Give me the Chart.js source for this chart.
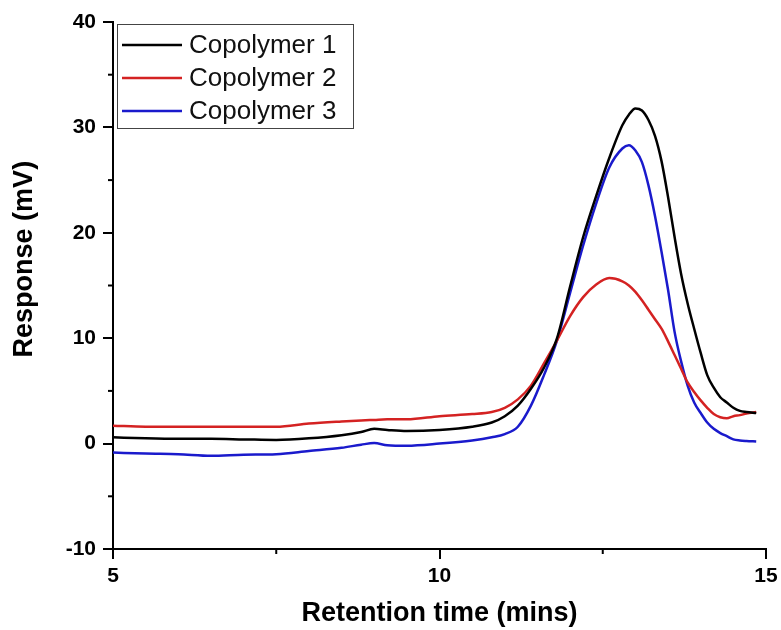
<!DOCTYPE html>
<html>
<head>
<meta charset="utf-8">
<script src="https://cdn.jsdelivr.net/npm/chart.js@4/dist/chart.umd.min.js"></script>
<style>
  body { margin: 0; background: #fff; }
  #wrap { width: 781px; height: 630px; }
</style>
</head>
<body>
<div id="wrap"><canvas id="gpcChart" width="781" height="630"></canvas></div>
<script>
// retention time (mins)
const times = [5, 5.5, 6, 6.5, 7, 7.5, 8, 8.5, 8.8, 9.0, 9.2, 9.5, 10, 10.5, 10.8, 11.0, 11.2, 11.4, 11.6, 11.8,
  12.0, 12.2, 12.4, 12.6, 12.8, 12.9, 13.0, 13.1, 13.2, 13.3, 13.4, 13.5, 13.6, 13.7, 13.8, 13.9,
  14.0, 14.1, 14.2, 14.3, 14.4, 14.5, 14.6, 14.7, 14.85];

// response (mV)
const copolymer1 = [0.6, 0.5, 0.45, 0.45, 0.4, 0.35, 0.5, 0.8, 1.1, 1.4, 1.3, 1.2, 1.3, 1.6, 2.0, 2.6, 3.6, 5.2, 7.2, 10.0,
  14.9, 19.6, 23.5, 27.1, 30.2, 31.2, 31.8, 31.6, 30.7, 29.2, 26.8, 23.4, 19.6, 16.1, 13.3, 10.9,
  8.6, 6.5, 5.3, 4.4, 3.9, 3.4, 3.1, 3.0, 2.9];
const copolymer2 = [1.7, 1.6, 1.6, 1.6, 1.6, 1.6, 1.9, 2.1, 2.2, 2.25, 2.3, 2.3, 2.6, 2.8, 3.0, 3.4, 4.2, 5.5, 7.6, 9.8,
  12.1, 13.9, 15.1, 15.7, 15.4, 15.0, 14.4, 13.6, 12.7, 11.8, 10.9, 9.7, 8.4, 7.1, 5.8, 4.9,
  4.1, 3.4, 2.8, 2.5, 2.4, 2.6, 2.7, 2.85, 3.0];
const copolymer3 = [-0.85, -0.95, -1.0, -1.15, -1.05, -1.0, -0.7, -0.4, -0.1, 0.05, -0.15, -0.2, 0.0, 0.3, 0.6, 0.9, 1.6, 3.6, 6.5, 9.8,
  14.3, 18.8, 22.8, 26.2, 28.0, 28.3, 27.8, 26.7, 24.5, 21.6, 18.2, 14.6, 10.6, 7.8, 5.5, 3.9,
  2.9, 2.0, 1.4, 1.0, 0.7, 0.4, 0.3, 0.25, 0.2];

const seriesNames = ['Copolymer 1', 'Copolymer 2', 'Copolymer 3'];
const seriesColors = ['#000000', '#d42222', '#1a1acc'];

const xMinor = [7.5, 12.5];
const yMinor = [-5, 5, 15, 25, 35];
const yTitle = 'Response (mV)';

const FONT = "'Liberation Sans', Arial, sans-serif";

function toPoints(ys) {
  return times.map((t, i) => ({ x: t, y: ys[i] }));
}

// short ticks between the labelled ones + y title (sits a bit above centre in the original)
const axisExtras = {
  id: 'axisExtras',
  afterDraw(chart) {
    const { ctx, chartArea } = chart;
    const x = chart.scales.x, y = chart.scales.y;
    ctx.save();
    ctx.strokeStyle = '#000';
    ctx.lineWidth = 2;
    xMinor.forEach(v => {
      const px = x.getPixelForValue(v);
      ctx.beginPath();
      ctx.moveTo(px, chartArea.bottom);
      ctx.lineTo(px, chartArea.bottom + 5);
      ctx.stroke();
    });
    yMinor.forEach(v => {
      const py = y.getPixelForValue(v);
      ctx.beginPath();
      ctx.moveTo(chartArea.left, py);
      ctx.lineTo(chartArea.left - 5, py);
      ctx.stroke();
    });
    ctx.translate(25, y.getPixelForValue(17.5));
    ctx.rotate(-Math.PI / 2);
    ctx.fillStyle = '#000';
    ctx.font = 'bold 27px ' + FONT;
    ctx.textAlign = 'center';
    ctx.textBaseline = 'middle';
    ctx.fillText(yTitle, 0, 0);
    ctx.restore();
  }
};

// legend box inside the plot, top left
const boxLegend = {
  id: 'boxLegend',
  afterDraw(chart) {
    const { ctx, chartArea } = chart;
    const bx = chartArea.left + 4, by = chartArea.top + 2;
    const bw = 236, bh = 104;
    ctx.save();
    ctx.fillStyle = '#fff';
    ctx.fillRect(bx, by, bw, bh);
    ctx.strokeStyle = '#444';
    ctx.lineWidth = 1;
    ctx.strokeRect(bx + 0.5, by + 0.5, bw, bh);
    ctx.font = '26px ' + FONT;
    ctx.textBaseline = 'middle';
    chart.data.datasets.forEach((ds, i) => {
      const ry = by + 21 + i * 33;
      ctx.strokeStyle = ds.borderColor;
      ctx.lineWidth = 2.5;
      ctx.beginPath();
      ctx.moveTo(bx + 5, ry);
      ctx.lineTo(bx + 65, ry);
      ctx.stroke();
      ctx.fillStyle = '#111';
      ctx.fillText(ds.label, bx + 72, ry + 1);
    });
    ctx.restore();
  }
};

const ctx = document.getElementById('gpcChart').getContext('2d');
new Chart(ctx, {
  type: 'line',
  data: {
    datasets: [copolymer1, copolymer2, copolymer3].map((ys, i) => ({
      label: seriesNames[i],
      data: toPoints(ys),
      borderColor: seriesColors[i],
      borderWidth: 2.5,
      pointRadius: 0,
      fill: false,
      cubicInterpolationMode: 'monotone'
    }))
  },
  options: {
    responsive: false,
    animation: false,
    layout: { padding: { top: 22, right: 15, left: 0, bottom: 0 } },
    plugins: {
      legend: { display: false },
      tooltip: { enabled: false }
    },
    scales: {
      x: {
        type: 'linear',
        min: 5,
        max: 15,
        ticks: {
          stepSize: 5,
          color: '#000',
          padding: 5,
          font: { family: FONT, size: 21, weight: 'bold' }
        },
        grid: { drawOnChartArea: false, drawTicks: true, tickLength: 10, color: '#000', lineWidth: 2 },
        border: { display: true, color: '#000', width: 2 },
        title: {
          display: true,
          text: 'Retention time (mins)',
          color: '#000',
          padding: { top: 0, bottom: 0 },
          font: { family: FONT, size: 27, weight: 'bold' }
        },
        afterFit(scale) {
          scale.height = 81;
          scale.paddingLeft = 0;
          scale.paddingRight = 0;
        }
      },
      y: {
        type: 'linear',
        min: -10,
        max: 40,
        ticks: {
          stepSize: 10,
          color: '#000',
          padding: 7,
          font: { family: FONT, size: 21, weight: 'bold' }
        },
        grid: { drawOnChartArea: false, drawTicks: true, tickLength: 10, color: '#000', lineWidth: 2 },
        border: { display: true, color: '#000', width: 2 },
        afterFit(scale) { scale.width = 113; }
      }
    }
  },
  plugins: [axisExtras, boxLegend]
});
</script>
</body>
</html>
